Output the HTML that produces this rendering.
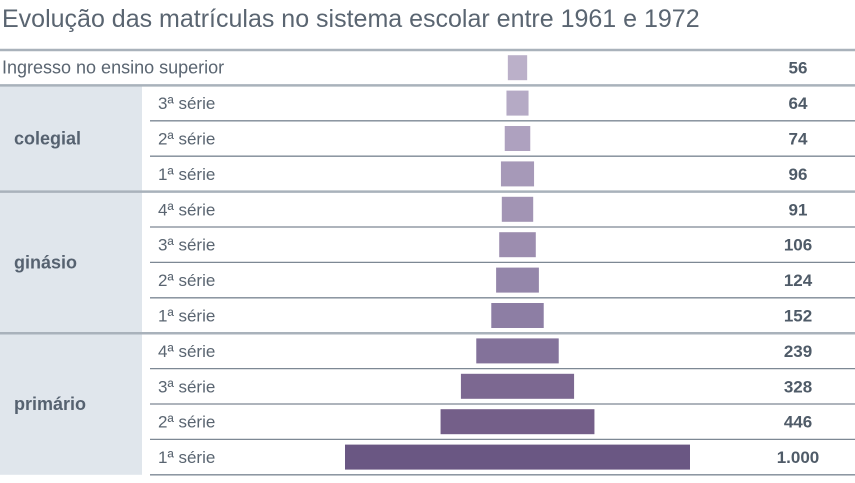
<!DOCTYPE html>
<html><head><meta charset="utf-8"><style>
body{margin:0;background:#fff;width:855px;height:478px;overflow:hidden;font-family:"Liberation Sans",sans-serif}
</style></head><body>
<svg width="855" height="478" font-family="Liberation Sans, sans-serif">
<text x="2" y="27" font-size="25" fill="#5a6571">Evolução das matrículas no sistema escolar entre 1961 e 1972</text>
<g id="g"></g>
</svg>
<script>
const labels=["Ingresso no ensino superior","3ª série","2ª série","1ª série","4ª série","3ª série","2ª série","1ª série","4ª série","3ª série","2ª série","1ª série"];
const values=[56,64,74,96,91,106,124,152,239,328,446,1000];
const printed=["56","64","74","96","91","106","124","152","239","328","446","1.000"];
const groups=[["colegial",1,3],["ginásio",4,7],["primário",8,11]];
const colors=["#bbb0c9","#b5aac5","#aea1bf","#a699b8","#a294b4","#9c8daf","#9486aa","#8d7ea4","#83729a","#7c6891","#745f89","#6a5783"];
const ns="http://www.w3.org/2000/svg",G=document.getElementById("g");
const top0=50,rh=35.4,cx=517.5,sx=v=>v*0.345;
function mk(t,a){const e=document.createElementNS(ns,t);for(const k in a)e.setAttribute(k,a[k]);G.appendChild(e);return e;}
groups.forEach(([n,s,e])=>{
 const r=mk("rect",{x:0,y:top0+s*rh,width:142,height:(e-s+1)*rh,fill:"#e0e6ec"});
 
 
 const t=mk("text",{x:14,y:top0+(s+e+1)/2*rh+6,"font-size":18,"font-weight":"bold",fill:"#566270"});t.textContent=n;
 
 
});
labels.forEach((l,i)=>{
 const y=top0+i*rh,cy=y+rh/2;
 const t=mk("text",{x:i==0?2:158,y:cy+6,"font-size":i==0?18:17,"font-weight":"normal",fill:"#5a6571"});t.textContent=l;
 
 
 const w=sx(values[i]);
 const b=mk("rect",{x:cx-w/2,y:cy-12.5,width:w,height:25,fill:colors[i]});
 
 
 const v=mk("text",{x:798,y:cy+6,"font-size":17,"font-weight":"bold",fill:"#4f5b68","text-anchor":"middle"});v.textContent=printed[i];
 
 
});
for(let i=0;i<=12;i++){
 const y=top0+i*rh;const full=[0,1,4,8].includes(i);
 const ln=mk("line",{x1:full?0:150,x2:855,y1:y,y2:y,stroke:full?"#a9b2bb":"#7d8894","stroke-width":full?2.5:1.3});
 
 
}
</script>
</body></html>
